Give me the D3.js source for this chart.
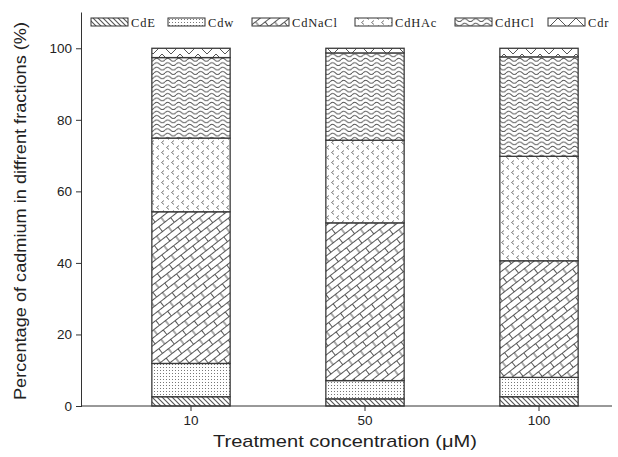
<!DOCTYPE html>
<html><head><meta charset="utf-8">
<script src="https://cdn.jsdelivr.net/npm/d3@7"></script>
<style>body{margin:0;background:#fff}svg{display:block}</style>
</head><body>
<div id="chart"></div>
<script>
const categories = ["10", "50", "100"];
const fractions = ["CdE", "Cdw", "CdNaCl", "CdHAc", "CdHCl", "Cdr"];
const CdE    = [2.6, 2.0, 2.6];
const Cdw    = [9.3, 5.1, 5.4];
const CdNaCl = [42.4, 44.1, 32.6];
const CdHAc  = [20.6, 23.1, 29.2];
const CdHCl  = [22.5, 24.4, 27.8];
const Cdr    = [2.6, 1.3, 2.4];
const yTicks = [0, 20, 40, 60, 80, 100];
const seriesValues = {CdE, Cdw, CdNaCl, CdHAc, CdHCl, Cdr};

const W = 618, H = 457;
const svg = d3.select("#chart").append("svg").attr("width", W).attr("height", H);
const defs = svg.append("defs");
const pc = "#555";

function pat(id, w, h, draw, transform) {
  const p = defs.append("pattern").attr("id", id).attr("patternUnits", "userSpaceOnUse")
    .attr("width", w).attr("height", h);
  if (transform) p.attr("patternTransform", transform);
  p.append("rect").attr("width", w).attr("height", h).attr("fill", "#fff");
  draw(p);
}
pat("p-CdE", 5, 5, p => p.append("path").attr("d", "M0,0L5,5M-1,4L1,6M4,-1L6,1")
  .attr("stroke", pc).attr("stroke-width", 1.1).attr("fill", "none"));
pat("p-Cdw", 3, 3, p => p.append("rect").attr("x", 1).attr("y", 1).attr("width", 1).attr("height", 1).attr("fill", "#777"));
pat("p-CdNaCl", 15, 12, p => p.append("path")
  .attr("d", "M0,0.5H15M0,6.5H15M0.5,0.5V6.5M8,6.5V12.5")
  .attr("stroke", pc).attr("stroke-width", 1).attr("fill", "none"), "rotate(-38)");
pat("p-CdHAc", 10, 10, p => p.append("path")
  .attr("d", "M4,0.5L1.5,2.5L4,4.5M9,5.5L6.5,7.5L9,9.5")
  .attr("stroke", "#777").attr("stroke-width", 1).attr("fill", "none"));
pat("p-CdHCl", 11, 4.4, p => p.append("path")
  .attr("d", "M0,2.6Q2.75,-0.4 5.5,2.6T11,2.6")
  .attr("stroke", pc).attr("stroke-width", 1).attr("fill", "none"));
pat("p-Cdr", 18, 9, p => p.append("path")
  .attr("d", "M0,0L9,9L18,0")
  .attr("stroke", pc).attr("stroke-width", 1).attr("fill", "none"));

const x0 = 82, y0 = 406;
const y = d3.scaleLinear().domain([0, 110]).range([y0, 12.5]);
const x = d3.scaleBand().domain(categories).range([104, 626]).paddingInner(0.55).paddingOuter(0.275);

const rows = categories.map((c, i) => {
  const r = {cat: c};
  fractions.forEach(f => r[f] = seriesValues[f][i]);
  return r;
});
const stack = d3.stack().keys(fractions)(rows);

const g = svg.append("g");
stack.forEach(layer => {
  g.selectAll(null).data(layer).join("rect")
    .attr("x", d => x(d.data.cat))
    .attr("y", d => y(d[1]))
    .attr("width", x.bandwidth())
    .attr("height", d => y(d[0]) - y(d[1]))
    .attr("fill", `url(#p-${layer.key})`)
    .attr("stroke", "#3a3a3a").attr("stroke-width", 1.3);
});

// Y axis
const yAxis = d3.axisLeft(y).tickValues(yTicks).tickSize(6).tickPadding(4);
const ya = svg.append("g").attr("transform", `translate(${x0},0)`).call(yAxis);
ya.select(".domain").attr("d", `M-0.5,${y0}V12.5`).attr("stroke", "#333");
ya.selectAll(".tick line").attr("stroke", "#333");
ya.selectAll("text").attr("font-family", "Liberation Sans, Arial, sans-serif").attr("font-size", 13.5).attr("fill", "#222");

// X axis
const xAxis = d3.axisBottom(x).tickSize(5).tickPadding(4);
const xa = svg.append("g").attr("transform", `translate(0,${y0})`).call(xAxis);
xa.select(".domain").attr("d", `M${x0 - 0.5},0H612`).attr("stroke", "#333");
xa.selectAll(".tick line").attr("stroke", "#333");
xa.selectAll("text").attr("font-family", "Liberation Sans, Arial, sans-serif").attr("font-size", 13.5).attr("fill", "#222");

// Axis titles
svg.append("text").attr("x", 345).attr("y", 447).attr("text-anchor", "middle")
  .attr("font-family", "Liberation Sans, Arial, sans-serif").attr("font-size", 17).attr("fill", "#222")
  .attr("textLength", 264).attr("lengthAdjust", "spacingAndGlyphs")
  .text("Treatment concentration (μM)");
svg.append("text").attr("transform", "translate(26,211) rotate(-90)").attr("text-anchor", "middle")
  .attr("font-family", "Liberation Sans, Arial, sans-serif").attr("font-size", 17).attr("fill", "#222")
  .attr("textLength", 378).attr("lengthAdjust", "spacingAndGlyphs")
  .text("Percentage of cadmium in diffrent fractions (%)");

// Legend
const legX = [91, 168, 252, 355, 455, 548];
const lg = svg.append("g");
fractions.forEach((f, i) => {
  lg.append("rect").attr("x", legX[i]).attr("y", 18).attr("width", 37).attr("height", 8)
    .attr("fill", `url(#p-${f})`).attr("stroke", "#333").attr("stroke-width", 1);
  lg.append("text").attr("x", legX[i] + 40).attr("y", 26.5)
    .attr("font-family", "Liberation Serif, Times New Roman, serif").attr("font-size", 12.5).attr("fill", "#222")
    .attr("letter-spacing", 0.8)
    .text(f);
});
</script>
</body></html>
